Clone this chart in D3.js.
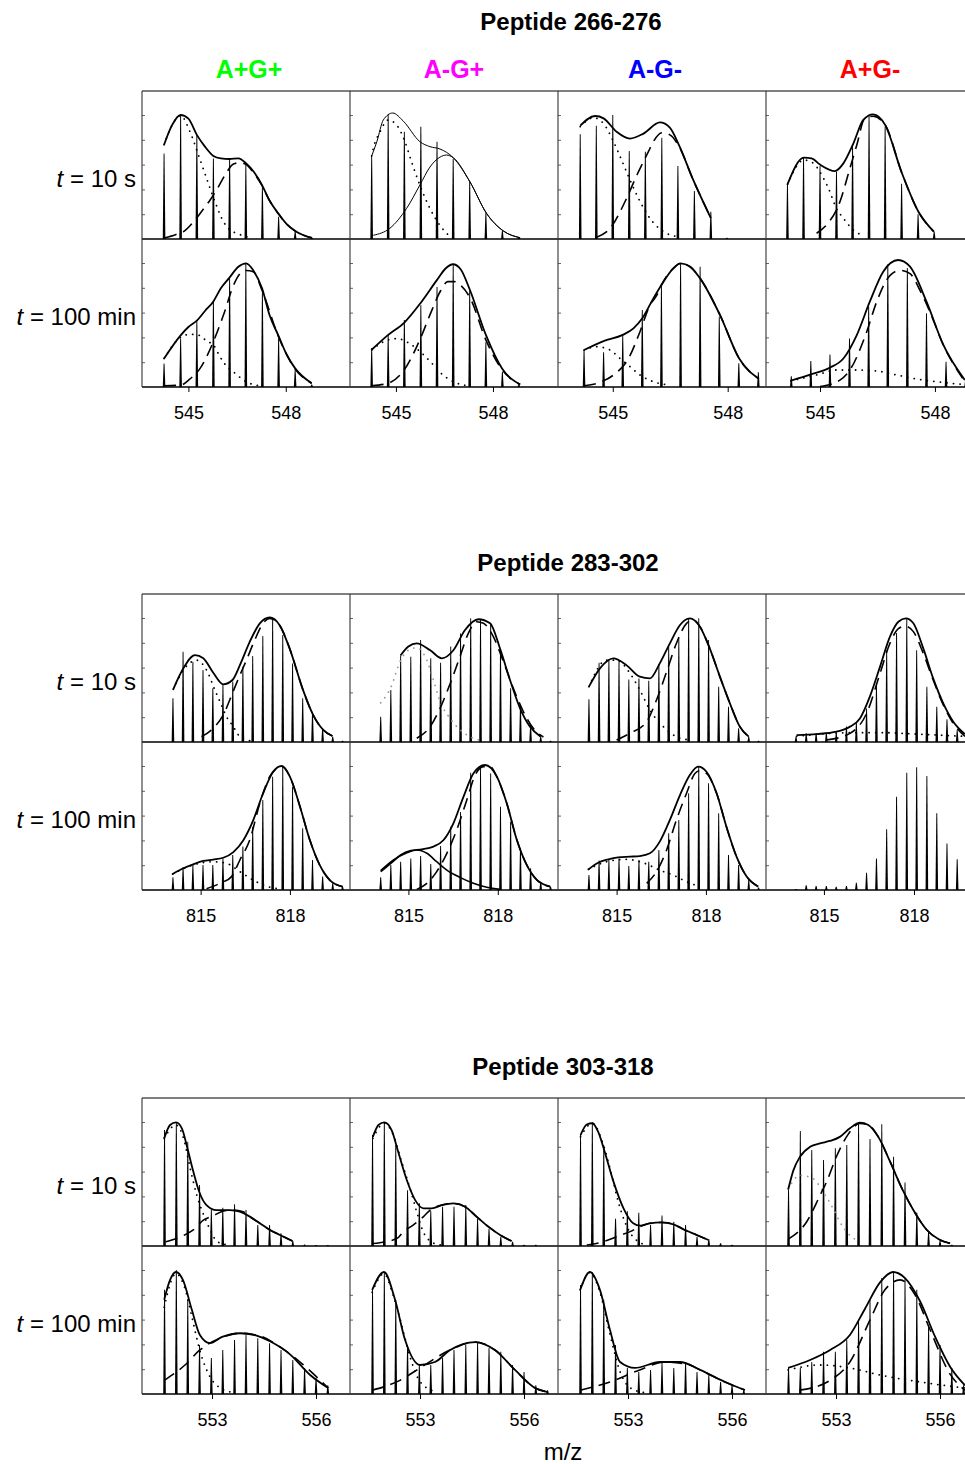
<!DOCTYPE html>
<html>
<head>
<meta charset="utf-8">
<script src="https://cdn.jsdelivr.net/npm/d3@7"></script>
<style>
  body { margin: 0; background: #fff; }
  svg { display: block; font-family: "Liberation Sans", Arial, sans-serif; }
  text { white-space: pre; }
</style>
</head>
<body>
<svg id="chart" width="965" height="1464"></svg>
<script>
// ---- data ----------------------------------------------------------------
const peptides = ["Peptide 266-276", "Peptide 283-302", "Peptide 303-318"];
const conditions = ["A+G+", "A-G+", "A-G-", "A+G-"];
const conditionColors = ["#00ff00", "#ff00ff", "#0000ff", "#ff0000"];
const times = ["10 s", "100 min"];
const xTicks = [[545, 548], [815, 818], [553, 556]];
// m/z range spanned by each column (per peptide block)
const xDomains = [
  [[543.57, 549.98], [543.58, 550.01], [543.57, 549.0], [543.59, 549.02]],
  [[813.03, 820.02], [813.04, 820.02], [813.03, 820.02], [813.07, 820.0]],
  [[550.98, 556.98], [550.98, 556.98], [550.98, 556.98], [550.98, 556.98]]
];

// isotope peak positions
const mz266 = [544.25, 544.76, 545.26, 545.77, 546.27, 546.77, 547.28, 547.78, 548.29, 548.80];
const mz266b = [544.15, 544.57, 545.0, 545.43, 545.85, 546.28, 546.70, 547.13, 547.56, 547.98];
const mz283 = [814.07, 814.41, 814.74, 815.08, 815.41, 815.75, 816.08, 816.42, 816.75, 817.09,
  817.42, 817.76, 818.09, 818.43, 818.76, 819.10, 819.44, 819.77];
const mz303 = [551.63, 551.97, 552.30, 552.64, 552.98, 553.31, 553.65, 553.98, 554.32, 554.66,
  554.99, 555.33, 555.67, 556.00, 556.34, 556.68];

// panel order: [10 s: A+G+, A-G+, A-G-, A+G-, 100 min: A+G+, A-G+, A-G-, A+G-]
const sticks266 = [
  [69, 100, 84, 65, 64.5, 60, 42, 18, 6, 1.5],
  [67, 100, 86.5, 90.6, 78.5, 64.5, 46.2, 21, 6.5, 1.5],
  [84.4, 91.4, 100, 71, 70.4, 81.7, 58.9, 38.7, 22, 1],
  [44, 65.6, 58.9, 54.3, 75, 100.5, 90.6, 44.6, 19.9, 6],
  [19, 39, 53, 70, 87.6, 99.7, 77, 39, 13.7, 2],
  [31.5, 42, 54, 66, 80.6, 99, 78, 36, 12, 2],
  [29.8, 28, 42, 62, 82.3, 99.7, 97, 56.7, 19.1, 11.8],
  [8.6, 21, 26.3, 39.2, 64.8, 98.9, 96, 59.4, 20.4, 6]
];
const sticks283 = [
  [35.2, 72.8, 64.7, 58, 43.3, 46, 48.7, 60.8, 69.4, 85.5, 99, 86.3, 63.4, 35.2, 24.4, 11, 4.3, 1],
  [20.4, 41.9, 70, 68.8, 82.3, 67.5, 64, 77, 87.6, 99.7, 98.4, 95.7, 74.7, 43.3, 29.8, 13.7, 4.3, 1],
  [34.4, 64, 66.7, 66, 50.5, 51.3, 49.4, 63, 77, 83.6, 99.7, 99.7, 82.3, 44.6, 28.5, 11, 4.3, 1],
  [4.3, 7, 7, 7.5, 7.5, 12.4, 15.6, 27, 46.5, 74, 88, 99.7, 74, 44.6, 28.5, 18.3, 9.7, 3],
  [10.2, 18.3, 20.2, 20.2, 20.2, 25.5, 28.2, 35, 51, 72.6, 91.4, 99.5, 83.3, 49.7, 24.2, 10.8, 5.4, 2.7],
  [10.2, 20.2, 22.8, 25.5, 27.4, 21, 35.5, 51, 63, 94.6, 98.1, 94, 67.2, 55, 33.6, 17.5, 6.7, 2.7],
  [12.1, 23.7, 24.2, 25.5, 19.4, 24.2, 22.8, 32.3, 45.7, 56.5, 78, 99.5, 86, 61.8, 28.2, 20.2, 8, 2],
  [0.8, 3.8, 3.2, 3.2, 2.7, 3.2, 5.9, 14, 25.5, 48.9, 75.3, 94.6, 98.9, 91.9, 61.8, 37.6, 24.7, 12]
];
const sticks303 = [
  [93.5, 99.7, 84, 49.2, 29, 30.9, 33.6, 29, 16.9, 16.9, 10.2, 4, 1.3, 0.8, 0.8],
  [89.5, 99.7, 81.5, 45, 34.4, 28.2, 31.7, 31.7, 33, 22, 14, 7.5, 3.5, 1, 1],
  [89.5, 99.7, 81.5, 22, 28, 26.9, 16.9, 24.5, 19.5, 16.9, 7.5, 5.6, 2.2, 1],
  [45.5, 92.7, 77.4, 69.4, 78.8, 81.5, 99.7, 86.3, 98.1, 72, 51.3, 27, 11, 4, 1],
  [84, 100, 76, 39.5, 29, 35.5, 43.5, 47.6, 45, 41, 35.5, 27.4, 21, 13, 7],
  [84, 98.4, 76, 39.5, 23.4, 23.4, 29, 35.5, 39.5, 42, 37, 34, 23.4, 17.7, 7, 3],
  [88, 98.4, 76, 39.5, 21, 17.7, 19.4, 25.8, 21, 25.8, 17.7, 15.3, 9.7, 7.3, 3.2],
  [21, 21, 25.8, 34, 34, 43.5, 59.7, 75.8, 93.5, 98.4, 93.5, 84, 55.6, 39.5, 21, 7]
];

// fitted envelopes: total (solid), component 1 (dotted), component 2 (dashed)
const total266 = [
  [[544.25, 76], [544.5, 92], [544.76, 100], [545.0, 97], [545.26, 84], [545.51, 74.5], [545.77, 67], [546.0, 65], [546.26, 64.5], [546.54, 65], [546.78, 61], [547.02, 54], [547.27, 43.5], [547.5, 31], [547.77, 20.5], [548.03, 12], [548.29, 6.5], [548.55, 3], [548.8, 1]],
  [[544.25, 67], [544.41, 78.5], [544.61, 96], [544.90, 101.6], [545.23, 95], [545.74, 78.5], [546.05, 74.5], [546.36, 72.6], [546.77, 65.6], [547.29, 46], [547.80, 20.7], [548.32, 6.5], [548.84, 1]],
  [[544.15, 91.4], [544.54, 99.2], [544.76, 97.3], [545.10, 86.5], [545.45, 81], [545.80, 85], [546.23, 94], [546.49, 89.8], [546.71, 77], [547.10, 47.6], [547.56, 16.8]],
  [[544.15, 44], [544.58, 65.6], [544.78, 65], [545.0, 60], [545.39, 54.8], [545.61, 61], [545.87, 77], [546.13, 96], [546.39, 100.5], [546.70, 92], [547.13, 53.8], [547.57, 22], [547.97, 6]],
  [[544.25, 23], [544.76, 41.7], [545.0, 48.4], [545.26, 53.5], [545.51, 61.3], [545.77, 69], [546.0, 79.6], [546.26, 88], [546.54, 97], [546.78, 99.7], [547.0, 94], [547.27, 79.6], [547.5, 58], [547.77, 41.7], [548.03, 26], [548.29, 15], [548.8, 3]],
  [[544.25, 30], [544.76, 42], [545.26, 52], [545.77, 68], [546.26, 86], [546.55, 96], [546.76, 99], [547.0, 95], [547.29, 78], [547.78, 42], [548.28, 15], [548.84, 2]],
  [[544.25, 29.8], [544.76, 37], [545.26, 42], [545.54, 47.3], [545.77, 55.4], [546.06, 71.5], [546.27, 82.3], [546.58, 95.7], [546.77, 99.7], [547.02, 97], [547.28, 87.6], [547.80, 58], [548.30, 23], [548.81, 6.7]],
  [[544.24, 5.1], [544.76, 10.2], [545.26, 15.6], [545.61, 23], [545.96, 41.9], [546.30, 68.8], [546.65, 93], [547.04, 102.4], [547.35, 97], [547.78, 68.8], [548.22, 33.9], [548.78, 5.6]]
];
const dotted266 = [
  [[544.25, 76], [544.5, 92], [544.76, 99.5], [545.05, 86.5], [545.31, 67.7], [545.56, 49], [545.82, 30], [546.08, 14], [546.3, 7], [546.49, 4.6], [546.9, 1]],
  [[544.25, 67], [544.30, 73], [544.51, 86.5], [544.76, 96], [545.02, 92], [545.28, 78.5], [545.48, 62.5], [545.74, 43.5], [546.05, 24.7], [546.36, 11], [546.67, 2]],
  [[544.15, 90.6], [544.50, 97.8], [544.76, 93], [545.02, 78.5], [545.23, 63.7], [545.45, 47.6], [545.67, 32.8], [545.97, 16.7], [546.32, 6], [546.67, 2]],
  [[544.15, 44], [544.58, 63.7], [544.83, 61], [545.0, 54], [545.22, 40.9], [545.43, 24.7], [545.61, 16.7], [545.87, 7.3], [546.13, 2.7]],
  [[544.25, 23], [544.76, 40], [545.05, 42.5], [545.36, 41.5], [545.56, 37], [545.77, 34], [545.92, 27], [546.08, 20], [546.44, 11], [546.8, 4], [547.2, 1]],
  [[544.25, 30], [544.76, 38], [545.05, 39], [545.36, 36], [545.77, 28], [546.08, 20], [546.44, 10], [546.8, 4], [547.2, 1]],
  [[544.25, 29.8], [544.58, 32.5], [544.93, 29.8], [545.19, 23], [545.45, 16.4], [545.71, 9.7], [546.06, 4.3], [546.49, 1.6]],
  [[544.24, 5], [544.91, 9.7], [545.43, 13.7], [545.96, 13.7], [546.48, 12.9], [547.0, 9.7], [547.52, 6.4], [548.04, 4.3], [548.74, 2]]
];
const dashed266 = [
  [[544.28, 1], [544.6, 3.5], [544.85, 6], [545.16, 14], [545.4, 22], [545.67, 31.5], [545.9, 41], [546.13, 51.6], [546.39, 60.5], [546.59, 61.5], [546.78, 60], [547.02, 53], [547.27, 43], [547.5, 31], [547.77, 20.5], [548.03, 12], [548.29, 6.5], [548.55, 3], [548.8, 1]],
  [[544.30, 3], [544.81, 8.6], [545.33, 24.7], [545.74, 43.5], [546.05, 58], [546.36, 66], [546.56, 67.7], [546.77, 65.6], [547.29, 46], [547.80, 20.7], [548.32, 6.5], [548.84, 1]],
  [[544.58, 1.5], [544.93, 8.6], [545.36, 32.8], [545.63, 51.6], [545.93, 70.4], [546.06, 78.5], [546.28, 85.7], [546.49, 84], [546.71, 75.8], [547.10, 47.6], [547.56, 16.8]],
  [[544.91, 4.6], [545.17, 11.3], [545.52, 30], [545.78, 57], [545.96, 75.8], [546.17, 97.3], [546.39, 99], [546.70, 92], [547.13, 53.8], [547.57, 22], [547.97, 6]],
  [[544.25, 1], [544.76, 1.5], [545.05, 6.5], [545.36, 15], [545.77, 36.6], [546.08, 58], [546.39, 82], [546.6, 91.6], [546.78, 94], [547.0, 93], [547.27, 78], [547.77, 41], [548.29, 14.5], [548.8, 3]],
  [[544.25, 1], [544.76, 3], [545.26, 14], [545.77, 40], [546.08, 60], [546.39, 78], [546.6, 85], [546.8, 85], [547.0, 82], [547.29, 72], [547.78, 38], [548.28, 14], [548.84, 2]],
  [[544.25, 1], [544.71, 4.3], [545.02, 9.7], [545.41, 23], [545.71, 44.6], [545.97, 66], [546.15, 74], [546.27, 82.3], [546.58, 95.7], [546.77, 99.7], [547.02, 97], [547.28, 87.6], [547.80, 58], [548.30, 23], [548.81, 6.7]],
  [[545.0, 0.3], [545.52, 5.6], [545.78, 13.7], [546.22, 44.6], [546.48, 68.8], [546.83, 90], [547.09, 94], [547.35, 91.4], [547.61, 78], [547.87, 60.5], [548.22, 33.9], [548.78, 4.3]]
];

const total283 = [
  [[814.08, 42.5], [814.42, 59.4], [814.81, 70], [815.09, 67.5], [815.42, 56], [815.76, 46.5], [816.07, 50], [816.32, 62], [816.65, 80.8], [816.99, 95.7], [817.32, 100.5], [817.66, 94], [817.99, 75.5], [818.44, 42], [818.78, 21.8], [819.12, 9.7], [819.43, 4.8]],
  [[814.74, 70], [815.0, 77], [815.28, 79.6], [815.73, 74], [816.12, 67.5], [816.51, 74], [816.90, 90.3], [817.35, 99], [817.74, 95.7], [818.08, 75], [818.41, 50], [818.75, 27], [819.08, 12.4], [819.44, 4.3]],
  [[814.07, 44.6], [814.44, 59.4], [814.89, 67.5], [815.33, 62], [815.78, 52.7], [816.12, 51.3], [816.45, 63.4], [816.79, 79.6], [817.13, 94.4], [817.46, 99.7], [817.80, 93], [818.13, 75.5], [818.47, 52.7], [818.81, 31], [819.14, 12.4], [819.44, 4.3]],
  [[814.09, 5.6], [814.76, 6.4], [815.42, 8.3], [815.87, 12.4], [816.2, 19], [816.53, 36.6], [816.87, 60.8], [817.2, 85], [817.48, 97], [817.73, 99.7], [817.98, 95.7], [818.31, 75.5], [818.64, 51.3], [818.98, 31], [819.31, 16.4], [819.7, 6.4]],
  [[814.06, 12.9], [814.42, 17.5], [814.75, 20.7], [815.09, 23.4], [815.42, 24.5], [815.76, 26], [816.10, 30.6], [816.43, 40], [816.77, 56.4], [817.10, 78], [817.44, 95.4], [817.72, 100], [818.0, 91.4], [818.34, 67.2], [818.67, 40.3], [819.0, 20.2], [819.34, 8], [819.77, 2.7]],
  [[814.07, 14.8], [814.41, 21.5], [814.74, 28.2], [815.08, 31.7], [815.45, 32.8], [815.84, 35], [816.18, 40.3], [816.51, 53.8], [816.85, 75.3], [817.18, 94], [817.57, 100.8], [817.97, 91.4], [818.30, 69.9], [818.64, 40.3], [818.97, 20.2], [819.31, 8.1], [819.76, 2.7]],
  [[814.05, 16.6], [814.38, 22], [814.72, 24.7], [815.05, 26.3], [815.45, 26.9], [815.78, 27.4], [816.12, 29.6], [816.45, 39], [816.79, 56.5], [817.13, 76.6], [817.46, 92.7], [817.74, 99.5], [818.02, 95.4], [818.36, 78], [818.69, 51], [819.03, 26.9], [819.37, 10.8], [819.76, 2.7]],
  []
];
const dotted283 = [
  [[814.08, 42.5], [814.53, 61.3], [814.86, 66], [815.20, 58], [815.48, 41.9], [815.70, 29.8], [815.87, 20.4], [816.10, 12.4], [816.32, 4.3], [816.65, 1]],
  [[814.07, 31.6], [814.41, 44], [814.74, 66], [815.0, 74], [815.28, 76], [815.62, 66], [815.84, 50], [816.06, 33], [816.40, 19], [816.73, 10], [817.18, 3], [817.5, 1]],
  [[814.07, 44.6], [814.66, 66], [815.0, 66], [815.45, 55.4], [815.78, 41.9], [816.12, 25.8], [816.57, 12.4], [817.01, 4.3], [817.46, 1.6]],
  [[814.09, 4.6], [815.87, 7.5], [816.98, 7.5], [818.09, 6.4], [819.64, 4.6]],
  [[814.06, 12.9], [814.75, 20.2], [815.42, 22.8], [815.87, 21.5], [816.32, 14.8], [816.77, 8], [817.22, 3], [817.66, 1]],
  [[814.07, 15.6], [814.50, 24.2], [814.95, 30], [815.28, 32.3], [815.62, 29.6], [815.95, 22.8], [816.29, 16.1], [816.73, 10.2], [817.18, 5.4], [817.63, 2.2], [818.08, 0.5]],
  [[814.05, 16.6], [814.66, 22.8], [815.33, 24.7], [815.89, 22], [816.45, 16], [816.90, 12], [817.35, 6.7], [817.80, 2.7]],
  []
];
const dashed283 = [
  [[815.03, 4.3], [815.42, 11], [815.76, 21.8], [816.09, 40.6], [816.32, 54], [816.54, 66], [816.82, 82.3], [817.10, 95.7], [817.32, 99.7], [817.66, 94], [817.99, 75.5], [818.44, 42], [818.78, 21.8], [819.12, 9.7], [819.43, 4.8]],
  [[815.28, 3], [815.73, 12.4], [816.06, 27], [816.40, 47], [816.73, 68.8], [817.01, 87.6], [817.29, 97], [817.52, 95.7], [817.85, 85], [818.19, 64.7], [818.52, 43.3], [818.86, 24.4], [819.19, 11], [819.53, 4]],
  [[815.0, 1.6], [815.45, 7], [816.01, 16.4], [816.34, 33.9], [816.68, 56.7], [817.01, 79.6], [817.35, 95.7], [817.57, 98.4], [817.80, 93], [818.13, 75.5], [818.47, 52.7], [818.81, 31], [819.14, 12.4], [819.44, 4.3]],
  [[815.09, 1.6], [815.87, 7], [816.42, 23], [816.87, 55.4], [817.2, 79.6], [817.48, 91.4], [817.7, 93.5], [817.98, 89], [818.31, 71.5], [818.64, 50], [818.98, 29.8], [819.31, 15], [819.7, 4.6]],
  [[815.2, 1], [815.65, 5.4], [816.04, 10.8], [816.32, 24.2], [816.65, 40.3], [816.99, 70], [817.32, 91.4], [817.55, 98], [817.72, 100], [818.0, 91.4], [818.34, 67.2], [818.67, 40.3], [819.0, 20.2], [819.34, 8], [819.77, 2.7]],
  [[815.28, 0.5], [815.62, 5.4], [815.95, 14.8], [816.29, 29.6], [816.62, 48.4], [816.96, 72.6], [817.24, 92.7], [817.52, 99.5], [817.74, 99.5], [817.97, 91], [818.30, 69.9], [818.64, 40.3], [818.97, 20.2], [819.31, 8.1], [819.76, 2.7]],
  [[816.01, 5.4], [816.34, 14.8], [816.68, 32.3], [817.01, 56.5], [817.35, 78], [817.63, 94], [817.80, 96.2], [818.02, 94], [818.36, 78], [818.69, 51], [819.03, 26.9], [819.37, 10.8], [819.76, 2.7]],
  []
];

const total303 = [
  [[551.62, 86.8], [551.79, 97.6], [551.96, 99.7], [552.13, 94.9], [552.29, 78.8], [552.46, 60], [552.63, 43.8], [552.84, 33], [553.13, 29], [553.52, 29], [553.80, 27.7], [554.09, 23.7], [554.38, 18.3], [554.67, 12.9], [554.96, 8.9], [555.32, 4]],
  [[551.64, 88], [551.80, 97.6], [551.97, 99.7], [552.18, 93.5], [552.37, 76], [552.62, 53], [552.86, 37], [553.10, 30.4], [553.34, 30.4], [553.63, 33], [553.96, 34.4], [554.30, 31.7], [554.63, 23.7], [554.97, 15.6], [555.31, 8.9], [555.64, 4]],
  [[551.63, 89.5], [551.81, 98], [551.97, 99], [552.14, 92], [552.34, 74.7], [552.58, 51.9], [552.87, 30.4], [553.15, 18.3], [553.35, 16.4], [553.63, 18.3], [553.97, 19], [554.31, 17.5], [554.64, 12.9], [554.98, 8.9], [555.32, 4.8]],
  [[551.62, 45.5], [551.77, 61], [551.96, 72], [552.25, 80], [552.54, 82.8], [552.82, 84.7], [553.11, 88], [553.40, 94.9], [553.69, 99.5], [553.93, 97.6], [554.22, 88], [554.56, 68], [554.90, 46.5], [555.23, 29], [555.62, 12.9], [555.95, 5.6], [556.29, 2.2]],
  [[551.62, 76], [551.79, 92], [551.96, 98.4], [552.16, 92], [552.42, 67.7], [552.65, 47.6], [552.94, 41], [553.29, 46], [553.81, 49], [554.24, 47.5], [554.67, 42.5], [555.25, 32], [555.83, 15.3], [556.35, 4.8]],
  [[551.62, 84], [551.96, 98.4], [552.28, 76], [552.57, 43.5], [553.0, 23.4], [553.43, 25.8], [553.87, 35.5], [554.59, 41.9], [555.16, 35.5], [555.74, 19.4], [556.32, 4.8], [556.69, 1.6]],
  [[551.62, 84], [551.90, 98.4], [552.19, 84], [552.48, 51.6], [552.77, 25.8], [553.2, 21], [553.92, 25.8], [554.5, 25.8], [555.08, 19.4], [555.8, 9.7], [556.37, 3.2]],
  [[551.62, 21], [552.25, 27.4], [552.83, 35.5], [553.40, 47.6], [553.84, 69], [554.27, 90], [554.64, 98.4], [554.99, 93.5], [555.42, 75], [555.86, 46], [556.29, 22], [556.72, 7]]
];
const dotted303 = [
  [[551.62, 86.8], [551.96, 97.6], [552.18, 86.8], [552.37, 62.6], [552.56, 41], [552.76, 25], [552.95, 13], [553.13, 4], [553.42, 1]],
  [[551.64, 86.8], [551.97, 98.9], [552.23, 89.5], [552.47, 68], [552.71, 46.5], [552.90, 28], [553.10, 11], [553.29, 4], [553.58, 0.8]],
  [[551.63, 88], [551.97, 99], [552.29, 81.5], [552.53, 57], [552.72, 35.5], [552.91, 19.4], [553.11, 8.6], [553.30, 3.5], [553.54, 0.8]],
  [[551.62, 46], [551.96, 57], [552.34, 54.3], [552.63, 43.5], [552.92, 30], [553.11, 19.4], [553.40, 8.6], [553.69, 3.5]],
  [[551.62, 70], [551.96, 97], [552.22, 85], [552.42, 62], [552.65, 35], [552.94, 14], [553.23, 5], [553.66, 1]],
  [[551.62, 82], [551.96, 97], [552.22, 80], [552.43, 60], [552.71, 30], [553.0, 10], [553.43, 2]],
  [[551.62, 84], [551.90, 98], [552.19, 82], [552.48, 48], [552.77, 18], [553.06, 5], [553.49, 1]],
  [[551.62, 19.4], [552.54, 23.4], [553.40, 21], [554.27, 15.3], [555.42, 9.7], [556.72, 4.8]]
];
const dashed303 = [
  [[551.67, 3.5], [552.21, 8.9], [552.46, 13], [552.76, 21], [553.04, 24.5], [553.33, 28.2], [553.62, 29], [553.90, 27.7], [554.09, 23.7], [554.38, 18.3], [554.67, 12.9], [554.96, 8.9], [555.32, 4]],
  [[551.64, 2], [552.33, 6], [552.52, 11.6], [552.81, 17], [553.10, 23.7], [553.29, 29], [553.63, 33], [553.96, 34.4], [554.30, 31.7], [554.63, 23.7], [554.97, 15.6], [555.31, 8.9], [555.64, 4]],
  [[551.81, 0.8], [552.29, 3.5], [552.67, 7.5], [553.06, 11.6], [553.35, 15.6], [553.63, 18.3], [553.97, 19], [554.31, 17.5], [554.64, 12.9], [554.98, 8.9], [555.32, 4.8]],
  [[551.62, 5.6], [552.15, 19.4], [552.54, 40.9], [552.73, 51.9], [553.01, 72], [553.35, 90], [553.69, 98.9], [553.93, 97.6], [554.22, 88], [554.56, 68], [554.90, 46.5], [555.23, 29], [555.62, 12.9], [555.95, 5.6], [556.29, 2.2]],
  [[551.62, 11], [552.22, 23.4], [552.65, 35.5], [553.23, 45], [553.81, 49], [554.38, 46.8], [554.96, 38], [555.54, 25.8], [556.35, 4.8]],
  [[551.62, 3], [552.42, 11], [553.0, 21], [553.87, 35.5], [554.59, 41.9], [555.16, 35.5], [555.74, 19.4], [556.32, 4.8], [556.69, 1.6]],
  [[551.62, 3], [552.48, 9.7], [553.34, 19.4], [554.06, 25.8], [554.79, 23.4], [555.08, 19.4], [555.8, 9.7], [556.37, 3.2]],
  [[551.94, 3], [552.83, 11], [553.40, 25.8], [553.98, 59.7], [554.41, 84], [554.85, 92], [555.28, 80], [555.71, 52], [556.29, 16], [556.72, 3]]
];

// ---- assemble per block --------------------------------------------------
const blocks = [
  { title: peptides[0], mz: [mz266, mz266, mz266b, mz266b, mz266, mz266, mz266, mz266],
    sticks: sticks266, total: total266, dotted: dotted266, dashed: dashed266 },
  { title: peptides[1], mz: d3.range(8).map(() => mz283),
    sticks: sticks283, total: total283, dotted: dotted283, dashed: dashed283 },
  { title: peptides[2], mz: d3.range(8).map(() => mz303),
    sticks: sticks303, total: total303, dotted: dotted303, dashed: dashed303 }
];

// a few panels were drawn differently in the original figure
const styleOverrides = {
  "0-1": { totalWidth: 1, dashedThinSolid: true },
  "1-1": { dottedColor: "#9a9a9a" },
  "1-5": { dottedSolid: true },
  "2-3": { dottedColor: "#9a9a9a" }
};

// ---- layout --------------------------------------------------------------
const colX = [142, 350, 558, 766];
const panelW = 208, panelH = 148, headroom = 24;
const blockTop = [91, 594, 1098];
const titlePos = [[571, 22], [568, 563], [563, 1067]];
const headerX = [249, 454, 655, 870];
const rightEdge = colX[3] + panelW;

const svg = d3.select("#chart");
svg.append("rect").attr("width", 965).attr("height", 1464).attr("fill", "#fff");

// column headers
svg.append("g").selectAll("text").data(conditions).join("text")
  .attr("x", (d, i) => headerX[i]).attr("y", 69).attr("dy", "0.35em")
  .attr("text-anchor", "middle").attr("font-size", 25).attr("font-weight", "bold")
  .attr("fill", (d, i) => conditionColors[i]).text(d => d);

blocks.forEach((block, bi) => {
  const top = blockTop[bi];
  const g = svg.append("g");

  g.append("text")
    .attr("x", titlePos[bi][0]).attr("y", titlePos[bi][1]).attr("dy", "0.35em")
    .attr("text-anchor", "middle").attr("font-size", 24).attr("font-weight", "bold")
    .text(block.title);

  // row labels
  times.forEach((t, ri) => {
    const lab = g.append("text")
      .attr("x", 136).attr("y", top + [88, 226][ri]).attr("dy", "0.35em")
      .attr("text-anchor", "end").attr("font-size", 24);
    lab.append("tspan").attr("font-style", "italic").text("t");
    lab.append("tspan").text(" = " + t);
  });

  for (let ri = 0; ri < 2; ri++) {
    const pTop = top + ri * panelH;
    const pBottom = pTop + panelH;
    const y = d3.scaleLinear().domain([0, 100]).range([pBottom, pTop + headroom]);

    for (let ci = 0; ci < 4; ci++) {
      const p = ri * 4 + ci;
      const x0 = colX[ci];
      const x = d3.scaleLinear().domain(xDomains[bi][ci]).range([x0, x0 + panelW]);
      const st = styleOverrides[bi + "-" + p] || {};
      const pg = g.append("g");

      // small y ticks on the left edge
      pg.append("g").attr("transform", `translate(${x0},0)`)
        .call(d3.axisRight(y).tickValues([20, 40, 60, 80, 100]).tickSize(3).tickFormat(""))
        .call(a => a.select(".domain").remove())
        .selectAll("line").attr("stroke", "#666");

      // isotope sticks (slightly tapered like the raw peaks)
      const mzs = block.mz[p];
      const pts = block.sticks[p].map((v, k) => [mzs[k], v]);
      pg.append("g").selectAll("path").data(pts).join("path")
        .attr("d", d => {
          const cx = x(d[0]), yb = y(0), yt = y(d[1]);
          return `M${cx - 1.3},${yb}L${cx - 0.45},${yt}L${cx + 0.45},${yt}L${cx + 1.3},${yb}Z`;
        })
        .attr("fill", "#000");

      const line = d3.line().x(d => x(d[0])).y(d => y(d[1])).curve(d3.curveMonotoneX);

      if (block.dotted[p].length) {
        const dp = pg.append("path").attr("d", line(block.dotted[p]))
          .attr("fill", "none").attr("stroke", st.dottedColor || "#000");
        if (st.dottedSolid) dp.attr("stroke-width", 1.6);
        else dp.attr("stroke-width", 1.8).attr("stroke-linecap", "round")
          .attr("stroke-dasharray", "0.1,6.5");
      }
      if (block.dashed[p].length) {
        const dsh = pg.append("path").attr("d", line(block.dashed[p]))
          .attr("fill", "none").attr("stroke", "#000");
        if (st.dashedThinSolid) dsh.attr("stroke-width", 1);
        else dsh.attr("stroke-width", 1.6).attr("stroke-dasharray", "12,7");
      }
      if (block.total[p].length) {
        pg.append("path").attr("d", line(block.total[p]))
          .attr("fill", "none").attr("stroke", "#000")
          .attr("stroke-width", st.totalWidth || 1.8);
      }

      // x axis under the 100 min row
      if (ri === 1) {
        const ax = g.append("g").attr("transform", `translate(0,${pBottom})`)
          .call(d3.axisBottom(x).tickValues(xTicks[bi]).tickSize(5).tickPadding(14)
            .tickFormat(d3.format("d")));
        ax.select(".domain").remove();
        ax.selectAll("line").attr("stroke", "#000");
        ax.selectAll("text").attr("font-size", 18)
          .attr("font-family", "'Liberation Sans', Arial, sans-serif").attr("fill", "#000");
      }
    }
  }

  // panel frame
  const frame = g.append("g").attr("fill", "none");
  frame.append("line").attr("x1", colX[0]).attr("x2", rightEdge)
    .attr("y1", top).attr("y2", top).attr("stroke", "#555").attr("stroke-width", 1.6);
  [1, 2].forEach(k => {
    frame.append("line").attr("x1", colX[0]).attr("x2", rightEdge)
      .attr("y1", top + k * panelH).attr("y2", top + k * panelH)
      .attr("stroke", "#000").attr("stroke-width", 1.4);
  });
  colX.concat([rightEdge]).forEach(cx => {
    frame.append("line").attr("x1", cx).attr("x2", cx)
      .attr("y1", top).attr("y2", top + 2 * panelH)
      .attr("stroke", "#333").attr("stroke-width", 1.1);
  });
});

svg.append("text").attr("x", 563).attr("y", 1452).attr("dy", "0.35em")
  .attr("text-anchor", "middle").attr("font-size", 24).text("m/z");
</script>
</body>
</html>
